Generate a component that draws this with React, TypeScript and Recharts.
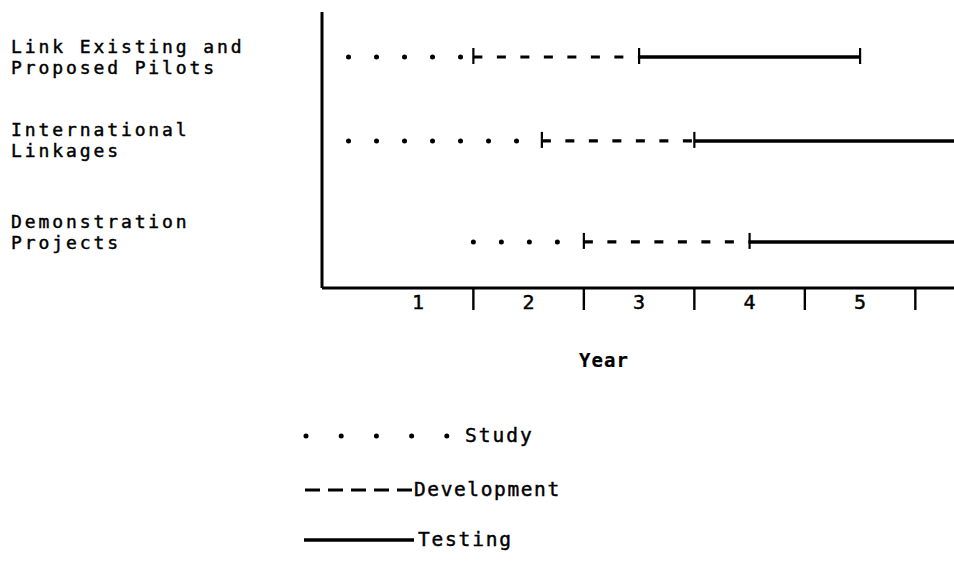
import { ComposedChart, XAxis, YAxis, Line, Scatter } from 'recharts'

// project rows (two-line labels)
const projectLines = [
  ['Link Existing and', 'Proposed Pilots'],
  ['International', 'Linkages'],
  ['Demonstration', 'Projects'],
]
const rowPos = [1.63, 4.67, 8.33]
const labelPos = [1.63, 4.64, 7.97]

// phase boundaries per row, in years
const studyStart = [-0.13, -0.13, 1.0]
const devStart = [1.0, 1.62, 2.0]
const testStart = [2.5, 3.0, 3.5]
const testEnd = [4.5, 5.35, 5.35]
const endMarked = [true, false, false]

const phases = ['Study', 'Development', 'Testing']

const yearBounds = [1, 2, 3, 4, 5]
const yearMid = [0.5, 1.5, 2.5, 3.5, 4.5]
const yearLabels = ['1', '2', '3', '4', '5']

const FONT = '"DejaVu Sans Mono", monospace'

const phaseStyle = [
  { strokeWidth: 5, strokeDasharray: '0 28', strokeLinecap: 'round' as const },
  { strokeWidth: 3.2, strokeDasharray: '9 14.5', strokeLinecap: 'butt' as const },
  { strokeWidth: 3.5, strokeDasharray: undefined, strokeLinecap: 'butt' as const },
]

const bounds = [studyStart, devStart, testStart, testEnd]

const markers = rowPos.flatMap((y, i) => {
  const pts = [{ x: devStart[i], y }, { x: testStart[i], y }]
  if (endMarked[i]) pts.push({ x: testEnd[i], y })
  return pts
})

const xTicks = [...yearMid, ...yearBounds].sort((a, b) => a - b)

const textStyle = { fontFamily: FONT, fill: '#000', stroke: '#000', strokeWidth: 0.45 }

function YearTick(props: any) {
  const { x, y, payload } = props
  const idx = yearMid.indexOf(payload.value)
  if (idx >= 0) {
    return (
      <text x={x} y={y + 21} textAnchor="middle" fontSize={20} {...textStyle}>
        {yearLabels[idx]}
      </text>
    )
  }
  return <line x1={x} x2={x} y1={y} y2={y + 22} stroke="#000" strokeWidth={2.4} />
}

function ProjectTick(props: any) {
  const { y, index } = props
  const lines = projectLines[index] || []
  return (
    <g>
      {lines.map((l, k) => (
        <text key={k} x={11} y={y - 4 + k * 21} fontSize={18} letterSpacing={2.9} {...textStyle}>
          {l}
        </text>
      ))}
    </g>
  )
}

function Marker(props: any) {
  const { cx, cy } = props
  return <line x1={cx} x2={cx} y1={cy - 9} y2={cy + 7} stroke="#000" strokeWidth={2.2} />
}

export default function App() {
  return (
    <div style={{ position: 'relative', width: 954, height: 561, background: '#fff' }}>
      <style>{'body{margin:0}'}</style>
      <ComposedChart width={954} height={561} margin={{ top: 12, right: 0, bottom: 243, left: 0 }}>
        <XAxis
          type="number"
          dataKey="x"
          domain={[-0.37, 5.35]}
          allowDataOverflow
          ticks={xTicks}
          interval={0}
          tickLine={false}
          tickSize={0}
          tickMargin={0}
          height={30}
          axisLine={{ stroke: '#000', strokeWidth: 3 }}
          tick={<YearTick />}
        />
        <YAxis
          type="number"
          dataKey="y"
          domain={[0, 10]}
          reversed
          ticks={labelPos}
          interval={0}
          width={322}
          tickLine={false}
          tickSize={0}
          tickMargin={0}
          axisLine={{ stroke: '#000', strokeWidth: 3 }}
          tick={<ProjectTick />}
        />
        {rowPos.map((y, i) =>
          phases.map((p, j) => (
            <Line
              key={`${i}-${p}`}
              data={[
                { x: bounds[j][i], y },
                { x: bounds[j + 1][i], y },
              ]}
              dataKey="y"
              type="linear"
              stroke="#000"
              strokeWidth={phaseStyle[j].strokeWidth}
              strokeDasharray={phaseStyle[j].strokeDasharray}
              strokeLinecap={phaseStyle[j].strokeLinecap}
              dot={false}
              activeDot={false}
              isAnimationActive={false}
            />
          ))
        )}
        <Scatter data={markers} dataKey="y" shape={<Marker />} isAnimationActive={false} />
      </ComposedChart>
      <svg
        width={954}
        height={561}
        style={{ position: 'absolute', left: 0, top: 0, pointerEvents: 'none' }}
      >
        <text x={604} y={367} textAnchor="middle" fontSize={19} fontWeight="bold" letterSpacing={1} {...textStyle} strokeWidth={0.2}>
          Year
        </text>
        <line x1={306} x2={447} y1={436} y2={436} stroke="#000" strokeWidth={5} strokeDasharray="0 35.2" strokeLinecap="round" />
        <text x={465} y={442} fontSize={19.5} letterSpacing={2} {...textStyle}>
          {phases[0]}
        </text>
        <line x1={305} x2={412} y1={490} y2={490} stroke="#000" strokeWidth={3.2} strokeDasharray="15 8" />
        <text x={414} y={496} fontSize={19.5} letterSpacing={1.6} {...textStyle}>
          {phases[1]}
        </text>
        <line x1={304} x2={414} y1={540} y2={540} stroke="#000" strokeWidth={3.5} />
        <text x={418} y={546} fontSize={19.5} letterSpacing={1.8} {...textStyle}>
          {phases[2]}
        </text>
      </svg>
    </div>
  )
}
